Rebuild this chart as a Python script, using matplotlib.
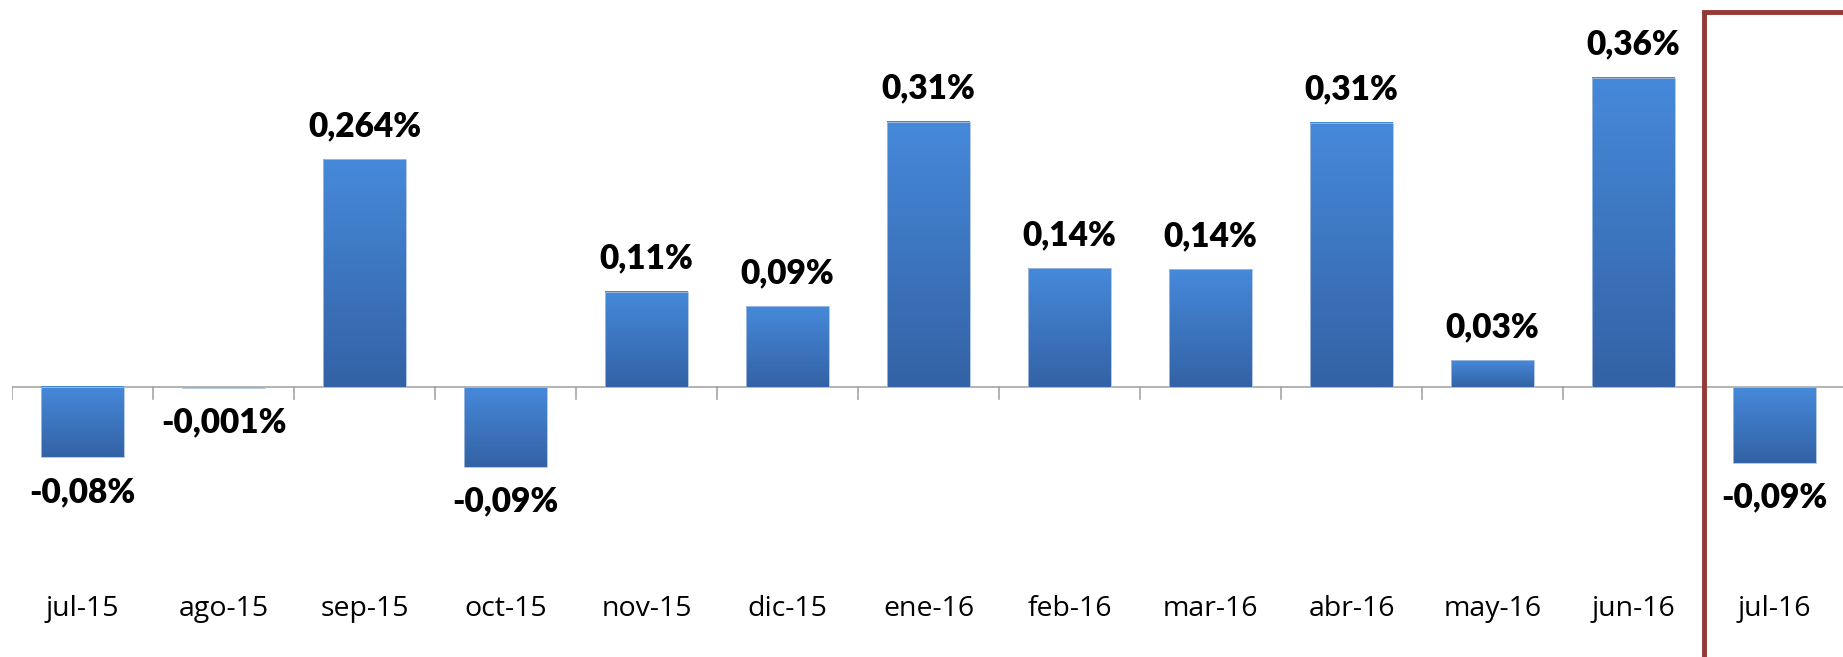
import numpy as np
import matplotlib.pyplot as plt
from matplotlib.patches import Rectangle
from matplotlib.colors import LinearSegmentedColormap

months = ['jul-15', 'ago-15', 'sep-15', 'oct-15', 'nov-15', 'dic-15', 'ene-16',
          'feb-16', 'mar-16', 'abr-16', 'may-16', 'jun-16', 'jul-16']
values = [-0.082, -0.001, 0.265, -0.093, 0.111, 0.094, 0.309, 0.138, 0.137,
          0.308, 0.031, 0.36, -0.088]
labels = ['-0,08%', '-0,001%', '0,264%', '-0,09%', '0,11%', '0,09%', '0,31%',
          '0,14%', '0,14%', '0,31%', '0,03%', '0,36%', '-0,09%']

W, H = 1843, 657
fig = plt.figure(figsize=(W / 100, H / 100), dpi=100)
left = 12 / W
ax = fig.add_axes([left, 0, 141 * 13 / W, 1])

zero_px = 387
ppu = 858.7  # pixels per unit
ax.axis('off')

# gradient bars
grad = np.linspace(0, 1, 256).reshape(-1, 1)
cmap = LinearSegmentedColormap.from_list('g', ['#3362a5', '#4689da'])
bw = 0.583
x = np.arange(len(months))
bars = ax.bar(x, values, width=bw, color='none', edgecolor='#a9c0de', linewidth=0.6, zorder=3)
for b, v in zip(bars, values):
    x0 = b.get_x()
    y0, y1 = min(0, v), max(0, v)
    ax.imshow(grad, extent=[x0, x0 + bw, y0, y1], origin='lower', cmap=cmap,
              aspect='auto', zorder=2)

# zero line and category ticks
ax.axhline(0, color='#a6a6a6', lw=1.2, zorder=1)
tick_len = 12 / ppu
for b in np.arange(-0.5, 12.6, 1):
    ax.plot([b, b], [0, -tick_len], color='#a6a6a6', lw=1.2, zorder=1)

# value labels
for xi, v, lab in zip(x, values, labels):
    off = 24 if v >= 0 else -25
    ax.annotate(lab, (xi, v), xytext=(0, off), textcoords='offset points',
                ha='center', va='center', fontsize=24, fontweight='heavy',
                family='Lato', color='black')

# month labels
label_y = (zero_px - 609) / ppu
for xi, m in zip(x, months):
    ax.text(xi, label_y, m, ha='center', va='center', fontsize=20.5,
            family='Open Sans', color='black')

# highlight box around last month
top_y = (zero_px - 12) / ppu
ax.add_patch(Rectangle((11.5, -1), 2, 1 + top_y, fill=False,
                       edgecolor='#953735', lw=3.5, zorder=5))

ax.set_xlim(-0.5, 12.5)
ax.set_ylim(-(H - zero_px) / ppu, zero_px / ppu)
fig.savefig('out.png', dpi=100)
